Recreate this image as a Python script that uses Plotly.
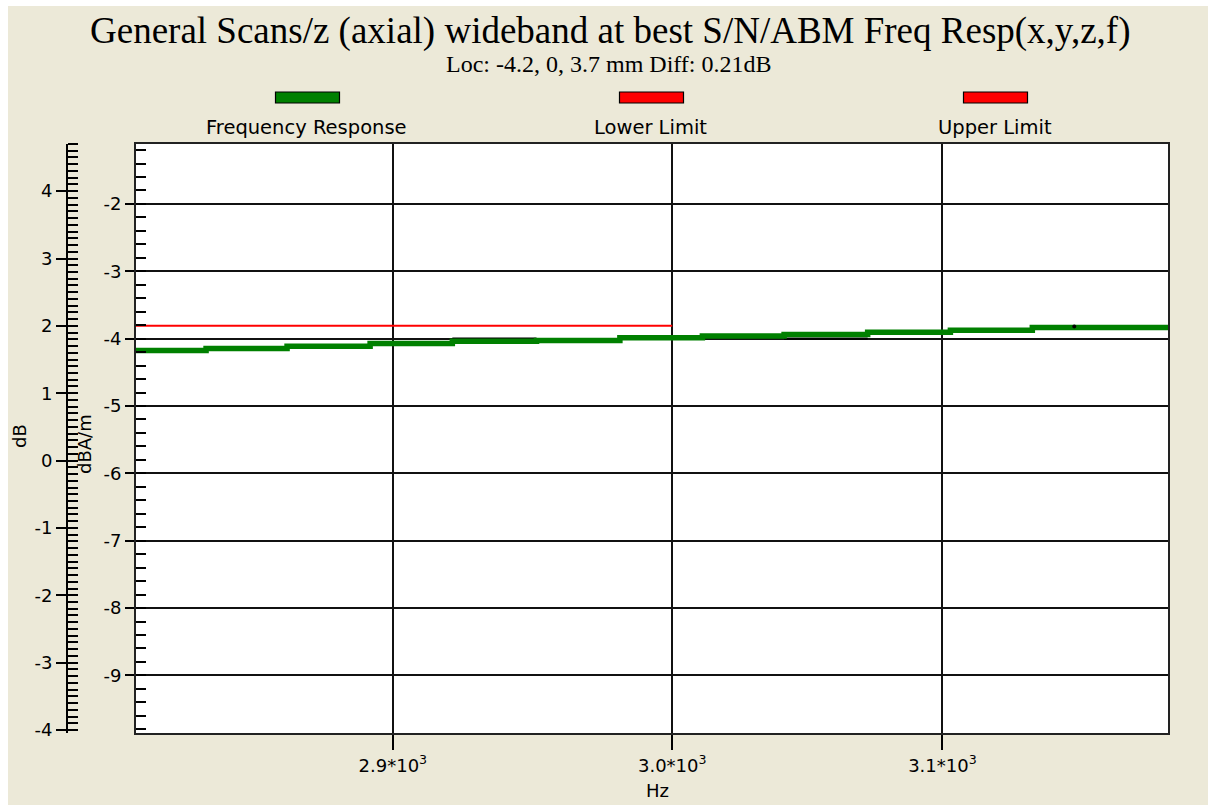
import plotly.graph_objects as go

# ---------------- data ----------------
freq_hz = [2806, 2835, 2863, 2892, 2921, 2951, 2981, 3011, 3041, 3072, 3103, 3134, 3190]
resp_db = [1.633, 1.663, 1.698, 1.737, 1.770, 1.782, 1.822, 1.851, 1.871, 1.906, 1.936, 1.974, 1.974]

lower_freq = [2800, 3000]
lower_db = [2.0, 2.0]

ref_freq = [2921, 2951, None, 3041, 3072]
ref_db = [1.81, 1.81, None, 1.81, 1.81]
dot_freq = [3150]
dot_db = [1.99]

DB_OFFSET = 5.81  # dB = dBA/m + offset

x_ticks = [2900, 3000, 3100]
x_ticktext = ["2.9*10<sup>3</sup>", "3.0*10<sup>3</sup>", "3.1*10<sup>3</sup>"]
db_ticks = [-4, -3, -2, -1, 0, 1, 2, 3, 4]
dbam_ticks = [-9, -8, -7, -6, -5, -4, -3, -2]

title_text = "General Scans/z (axial) wideband at best S/N/ABM Freq Resp(x,y,z,f)"
subtitle_text = "Loc: -4.2, 0, 3.7 mm Diff: 0.21dB"
legend_names = ["Frequency Response", "Lower Limit", "Upper Limit"]
legend_colors = ["#008000", "#FF0000", "#FF0000"]

# ---------------- geometry (page body margin set to 6px top / 8px left) ----------------
OFFX, OFFY = 8, 6
W, H = 1200, 799
ML, MR, MT, MB = 40, 40, 138, 72
PW, PH = W - ML - MR, H - MT - MB


def px2x(sx):
    return (sx - OFFX - ML) / PW


def px2y(sy):
    return (H - MB - (sy - OFFY)) / PH


BEIGE = "#ECE9D8"
SANS = "DejaVu Sans"
SERIF = "Liberation Serif"

fig = go.Figure()

lower_dbam = [v - DB_OFFSET for v in lower_db]
fig.add_trace(go.Scatter(x=lower_freq, y=lower_dbam, mode="lines", line=dict(color="#FF0000", width=2),
                         yaxis="y", showlegend=False, name="Lower Limit"))
fig.add_trace(go.Scatter(x=ref_freq, y=ref_db, mode="lines", line=dict(color="black", width=2.5),
                         yaxis="y2", showlegend=False, hoverinfo="skip"))
fig.add_trace(go.Scatter(x=freq_hz, y=resp_db, mode="lines", line=dict(color="#008000", width=5.5, shape="hv"),
                         yaxis="y2", showlegend=False, name="Frequency Response"))
fig.add_trace(go.Scatter(x=dot_freq, y=dot_db, mode="markers", marker=dict(color="black", size=4),
                         yaxis="y3", showlegend=False, hoverinfo="skip"))

db_range = [-4.045, 4.70]
dbam_range = [db_range[0] - DB_OFFSET, db_range[1] - DB_OFFSET]

fig.update_layout(
    width=W, height=H,
    margin=dict(l=ML, r=MR, t=MT, b=MB),
    paper_bgcolor=BEIGE, plot_bgcolor="white",
    font=dict(family=SANS, size=18, color="black"),
    xaxis=dict(type="log", domain=[px2x(136), 1],
               range=[3.44886, 3.50325],
               tickvals=x_ticks, ticktext=x_ticktext,
               ticks="outside", ticklen=15, tickwidth=1.5, tickcolor="black",
               showgrid=True, gridcolor="#111", gridwidth=1.5,
               showline=True, linecolor="#222", linewidth=2, mirror=True,
               zeroline=False, tickfont=dict(family=SANS, size=18)),
    yaxis=dict(range=dbam_range,
               tickvals=dbam_ticks, ticktext=[str(v) for v in dbam_ticks],
               ticks="outside", ticklen=9, tickwidth=1.5, tickcolor="black",
               minor=dict(dtick=0.2, tick0=0, ticks="inside", ticklen=10, tickwidth=1.5,
                          tickcolor="black", showgrid=False),
               showgrid=True, gridcolor="#111", gridwidth=1.5,
               showline=True, linecolor="#222", linewidth=2, mirror=True,
               zeroline=False, tickfont=dict(family=SANS, size=18)),
    yaxis2=dict(overlaying="y", anchor="free", position=px2x(67), side="left",
                range=db_range,
                tickvals=db_ticks, ticktext=[str(v) for v in db_ticks],
                ticks="outside", ticklen=10, tickwidth=1.5, tickcolor="black",
                minor=dict(dtick=0.1, tick0=0, ticks="inside", ticklen=10, tickwidth=1.5,
                           tickcolor="black", showgrid=False),
                showgrid=False, zeroline=False,
                showline=True, linecolor="black", linewidth=2,
                tickfont=dict(family=SANS, size=18)),
    yaxis3=dict(overlaying="y", anchor="free", position=px2x(67), side="left",
                range=db_range, tickvals=db_ticks,
                ticks="inside", ticklen=10, tickwidth=1.5, tickcolor="black",
                showticklabels=False, showgrid=False, zeroline=False, showline=False),
)

shapes = []
annotations = [
    dict(text=title_text, x=px2x(610.5), y=px2y(31), xref="paper", yref="paper", showarrow=False,
         xanchor="center", yanchor="middle", font=dict(family=SERIF, size=37, color="black")),
    dict(text=subtitle_text, x=px2x(608.5), y=px2y(64), xref="paper", yref="paper", showarrow=False,
         xanchor="center", yanchor="middle", font=dict(family=SERIF, size=24, color="black")),
    dict(text="Hz", x=px2x(657), y=px2y(790), xref="paper", yref="paper", showarrow=False,
         xanchor="center", yanchor="middle", font=dict(family=SANS, size=18)),
    dict(text="dB", x=px2x(19), y=px2y(436), xref="paper", yref="paper", showarrow=False, textangle=-90,
         xanchor="center", yanchor="middle", font=dict(family=SANS, size=18)),
    dict(text="dBA/m", x=px2x(85), y=px2y(444), xref="paper", yref="paper", showarrow=False, textangle=-90,
         xanchor="center", yanchor="middle", font=dict(family=SANS, size=18)),
]
centers = [307.5, 651.5, 995.5]
for name, col, cx in zip(legend_names, legend_colors, centers):
    shapes.append(dict(type="rect", xref="paper", yref="paper",
                       x0=px2x(cx - 32), x1=px2x(cx + 32), y0=px2y(103), y1=px2y(92),
                       fillcolor=col, line=dict(color="black", width=1.2)))
    annotations.append(dict(text=name, x=px2x(cx - 1), y=px2y(127), xref="paper", yref="paper",
                            showarrow=False, xanchor="center", yanchor="middle",
                            font=dict(family=SANS, size=19.5)))

fig.update_layout(shapes=shapes, annotations=annotations)
fig.write_html("out.html",
               post_script="document.body.style.margin='6px 0 0 8px';document.body.style.overflow='hidden';")
